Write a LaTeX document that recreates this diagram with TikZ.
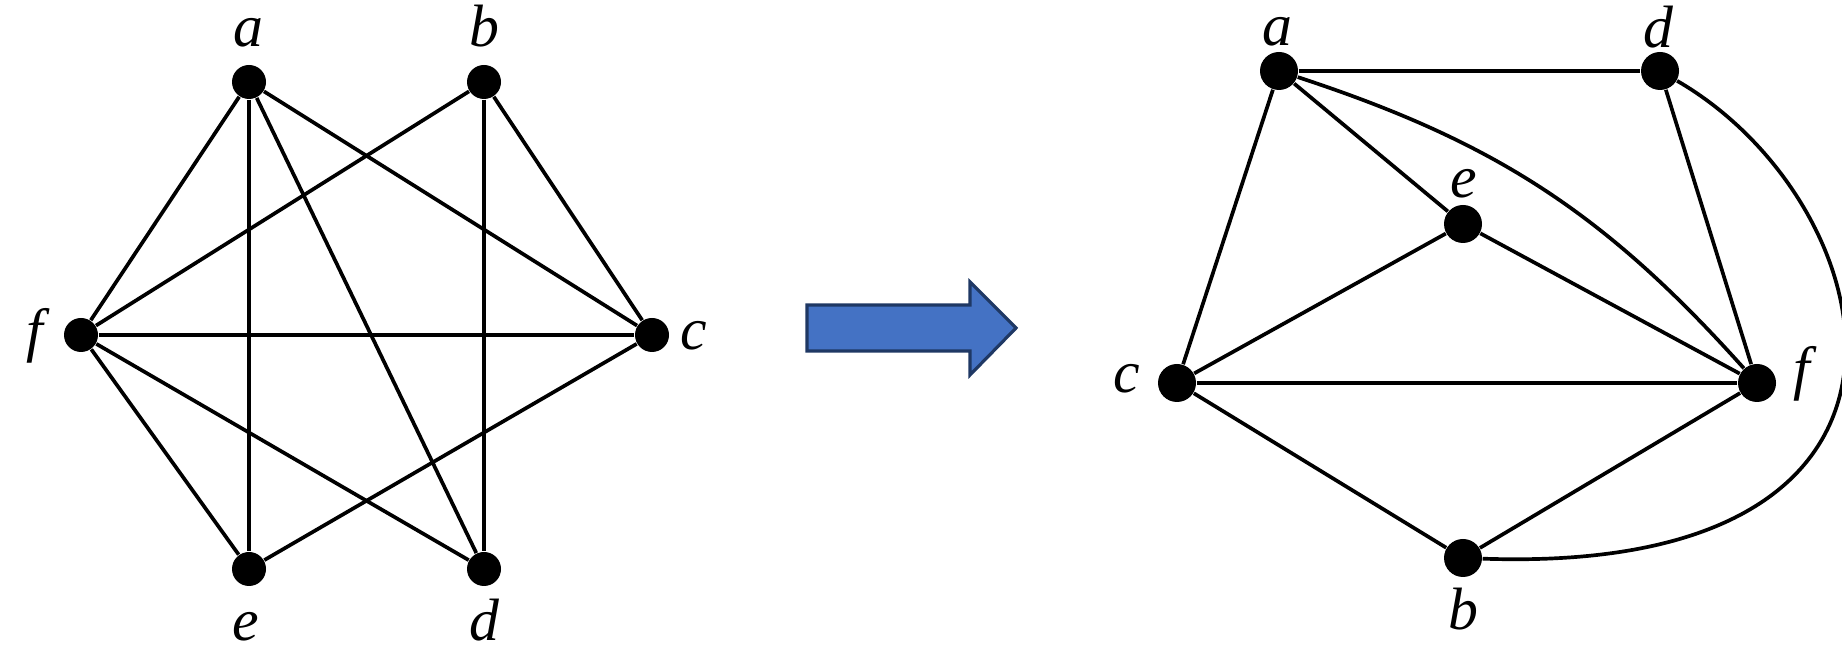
\documentclass[tikz,border=0pt]{standalone}
\usepackage{fontspec}
\setmainfont{Liberation Serif}
\usepackage{tikz}
\usetikzlibrary{positioning,arrows.meta}
\definecolor{arrowblue}{HTML}{4472C4}
\definecolor{arrowedge}{HTML}{1F3864}
\tikzset{
    vtx/.style={circle,fill=black,inner sep=0pt,minimum size=3.4mm},
    bigvtx/.style={vtx,minimum size=3.8mm},
    lbl/.style={anchor=base,inner sep=0pt,font=\fontsize{17}{19}\selectfont\itshape},
    every edge/.style={draw,line width=1.05pt},
}

\begin{document}
\begin{tikzpicture}
    \useasboundingbox (0,0) rectangle (18.42,6.53);

    % left drawing
    \node[vtx] (a) at (2.49,5.71) {};
    \node[vtx] (b) at (4.84,5.71) {};
    \node[vtx] (f) at (0.81,3.18) {};
    \node[vtx] (c) at (6.52,3.18) {};
    \node[vtx] (e) at (2.49,0.84) {};
    \node[vtx] (d) at (4.84,0.84) {};
    \node[lbl] (la) at (2.48,6.06) {a};
    \node[lbl] (lb) at (4.84,6.06) {b};
    \node[lbl] (lf) at (0.35,3.02) {f};
    \node[lbl] (lc) at (6.94,3.03) {c};
    \node[lbl] (le) at (2.46,0.12) {e};
    \node[lbl] (ld) at (4.84,0.12) {d};

    \path
    (a) edge (f) (a) edge (e) (a) edge (d) (a) edge (c)
    (b) edge (f) (b) edge (d) (b) edge (c)
    (f) edge (c) (f) edge (e) (f) edge (d)
    (e) edge (c);

    % block arrow
    \draw[line width=0.9pt,draw=arrowedge,fill=arrowblue]
    (8.07,3.48) -- (9.70,3.48) -- (9.70,3.71) -- (10.16,3.25)
    -- (9.70,2.78) -- (9.70,3.02) -- (8.07,3.02) -- cycle;

    % right drawing
    \node[bigvtx] (a2) at (12.79,5.82) {};
    \node[bigvtx] (d2) at (16.60,5.82) {};
    \node[bigvtx] (e2) at (14.63,4.29) {};
    \node[bigvtx] (c2) at (11.77,2.70) {};
    \node[bigvtx] (f2) at (17.57,2.70) {};
    \node[bigvtx] (b2) at (14.63,0.95) {};
    \node[lbl] (la2) at (12.77,6.07) {a};
    \node[lbl] (ld2) at (16.58,6.05) {d};
    \node[lbl] (le2) at (14.64,4.55) {e};
    \node[lbl] (lc2) at (11.27,2.60) {c};
    \node[lbl] (lf2) at (18.02,2.64) {f};
    \node[lbl] (lb2) at (14.63,0.23) {b};

    \path
    (a2) edge (d2) (a2) edge (e2) (a2) edge (c2)
    (a2) edge[bend left=15] (f2)
    (d2) edge (f2)
    (e2) edge (c2) (e2) edge (f2)
    (c2) edge (f2) (c2) edge (b2) (b2) edge (f2);
    \draw[line width=1.05pt] (d2) .. controls +(-30:2.6) and +(-2:5.17) .. (b2);
\end{tikzpicture}
\end{document}
